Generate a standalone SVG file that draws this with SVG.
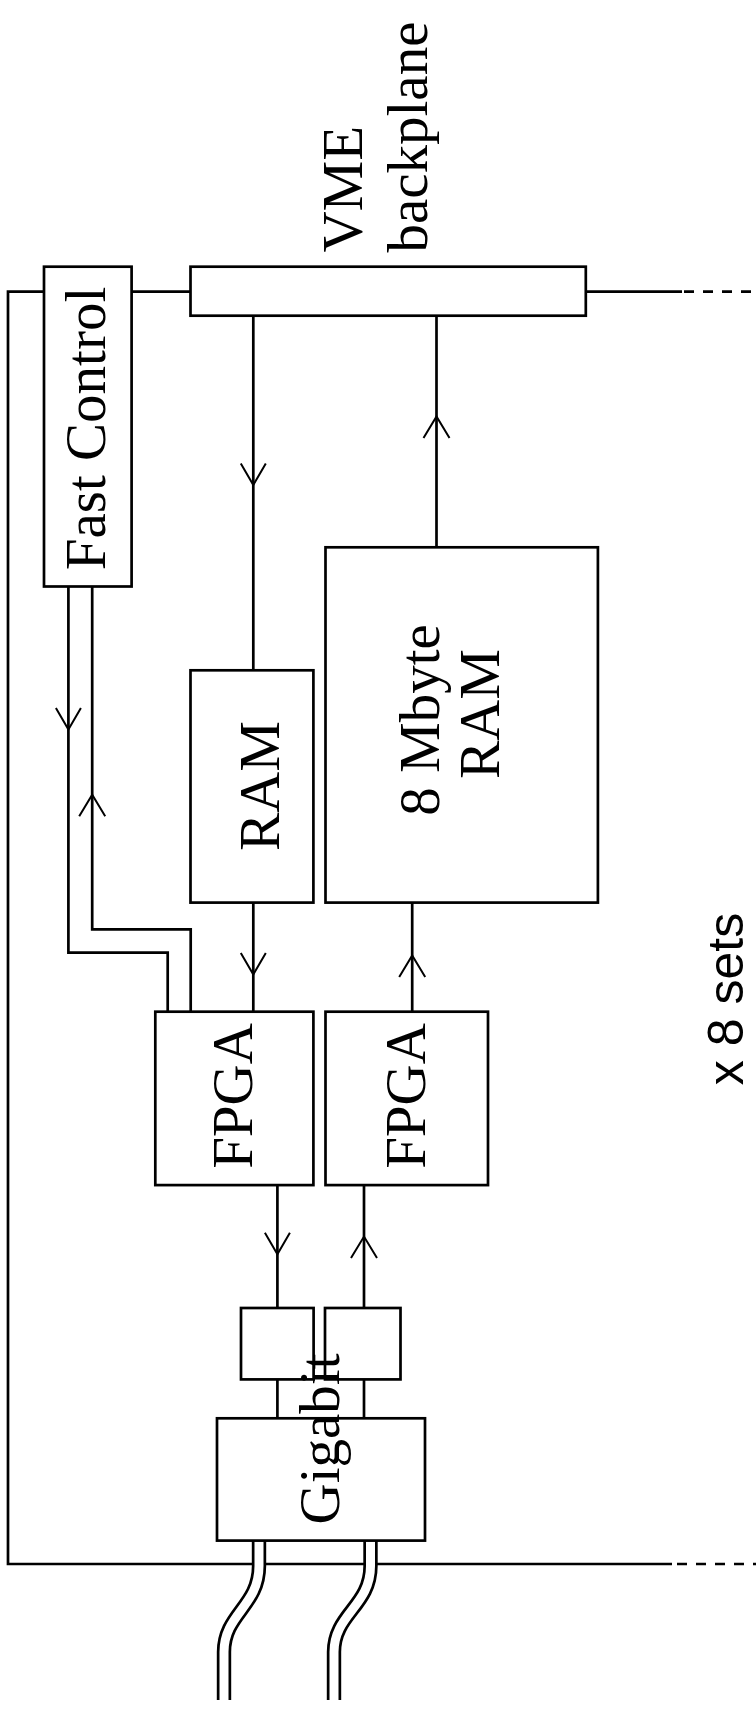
<svg xmlns="http://www.w3.org/2000/svg" width="756" height="1712" viewBox="0 0 756 1712">
<style>
.box{fill:#fff;stroke:#000;stroke-width:2.7}
.ln{fill:none;stroke:#000;stroke-width:2.7}
.dash{fill:none;stroke:#000;stroke-width:2.7;stroke-dasharray:10 9}
.arr{fill:none;stroke:#000;stroke-width:2}
.t{font-family:"Liberation Serif","Times New Roman",serif;font-size:57px;fill:#000}
.s{font-family:"Liberation Sans",Arial,sans-serif;font-size:50px;fill:#000}
.wo{fill:none;stroke:#000;stroke-width:14.4}
.wi{fill:none;stroke:#fff;stroke-width:9}
</style>
<defs>
<path id="ad" d="M-12.5,-21.5 L0,0 L12.5,-21.5"/>
<path id="au" d="M-13,21.5 L0,0 L13,21.5"/>
</defs>
<rect width="756" height="1712" fill="#fff"/>
<g id="connectors">
<path class="ln" d="M44,291.6 H8 V1564 H672"/>
<path class="dash" d="M677,1564 H756"/>
<path class="ln" d="M131.6,291.6 H190.5"/>
<path class="ln" d="M585.8,291.6 H682"/>
<path class="dash" d="M684,291.6 H756"/>
<path class="ln" d="M253.3,315.7 V670.3"/>
<path class="ln" d="M436.5,315.7 V547.3"/>
<path class="ln" d="M68.4,586.5 V952.7 H167.7 V1011.7"/>
<path class="ln" d="M92.2,586.5 V929.3 H190.7 V1011.7"/>
<path class="ln" d="M253.3,902.6 V1011.7"/>
<path class="ln" d="M412.2,902.6 V1011.7"/>
<path class="ln" d="M277.4,1185.1 V1308"/>
<path class="ln" d="M364,1185.1 V1308"/>
<path class="ln" d="M277.4,1379.4 V1418.3"/>
<path class="ln" d="M364,1379.4 V1418.3"/>
<g class="arr">
<use href="#ad" x="253.3" y="485"/>
<use href="#au" x="436.5" y="416.5"/>
<use href="#ad" x="68.4" y="729.6"/>
<use href="#au" x="92.2" y="794.7"/>
<use href="#ad" x="253.3" y="974.5"/>
<use href="#au" x="412.2" y="955.4"/>
<use href="#ad" x="277.4" y="1254.2"/>
<use href="#au" x="364" y="1236.6"/>
</g>
<path class="wo" d="M259,1541 V1566 C259,1606 224,1614 224,1652 V1700"/>
<path class="wi" d="M259,1541 V1566 C259,1606 224,1614 224,1652 V1700"/>
<path class="wo" d="M370.5,1541 V1566 C370.5,1606 334,1614 334,1652 V1700"/>
<path class="wi" d="M370.5,1541 V1566 C370.5,1606 334,1614 334,1652 V1700"/>
</g>
<g id="fast-control">
<rect class="box" x="44" y="266.7" width="87.6" height="319.8"/>
<text class="t" text-anchor="middle" transform="translate(105.1,428.5) rotate(-90)">Fast Control</text>
</g>
<g id="vme-backplane">
<rect class="box" x="190.5" y="266.7" width="395.3" height="49"/>
<text class="t" transform="translate(361.6,252.6) rotate(-90)">VME</text>
<text class="t" transform="translate(426.7,252.6) rotate(-90)">backplane</text>
</g>
<g id="ram">
<rect class="box" x="190.5" y="670.3" width="122.9" height="232.3"/>
<text class="t" text-anchor="middle" transform="translate(278.7,786) rotate(-90)">RAM</text>
</g>
<g id="ram-8mbyte">
<rect class="box" x="325.5" y="547.3" width="272.4" height="355.3"/>
<text class="t" text-anchor="middle" transform="translate(438.8,720) rotate(-90)">8 Mbyte</text>
<text class="t" text-anchor="middle" transform="translate(499,714) rotate(-90)">RAM</text>
</g>
<g id="fpga1">
<rect class="box" x="155.3" y="1011.7" width="158.1" height="173.4"/>
<text class="t" text-anchor="middle" transform="translate(251.7,1096) rotate(-90)">FPGA</text>
</g>
<g id="fpga2">
<rect class="box" x="325.5" y="1011.7" width="162.5" height="173.4"/>
<text class="t" text-anchor="middle" transform="translate(425.3,1096) rotate(-90)">FPGA</text>
</g>
<g id="small-box-1">
<rect class="box" x="241" y="1308" width="72.6" height="71.4"/>
</g>
<g id="small-box-2">
<rect class="box" x="325" y="1308" width="75.5" height="71.4"/>
</g>
<g id="gigabit">
<rect class="box" x="217" y="1418.3" width="208" height="122.3"/>
<text class="t" text-anchor="middle" transform="translate(339,1439) rotate(-90)">Gigabit</text>
</g>
<g id="label-sets">
<text class="s" text-anchor="middle" transform="translate(743.3,999) rotate(-90)">x 8 sets</text>
</g>
</svg>
